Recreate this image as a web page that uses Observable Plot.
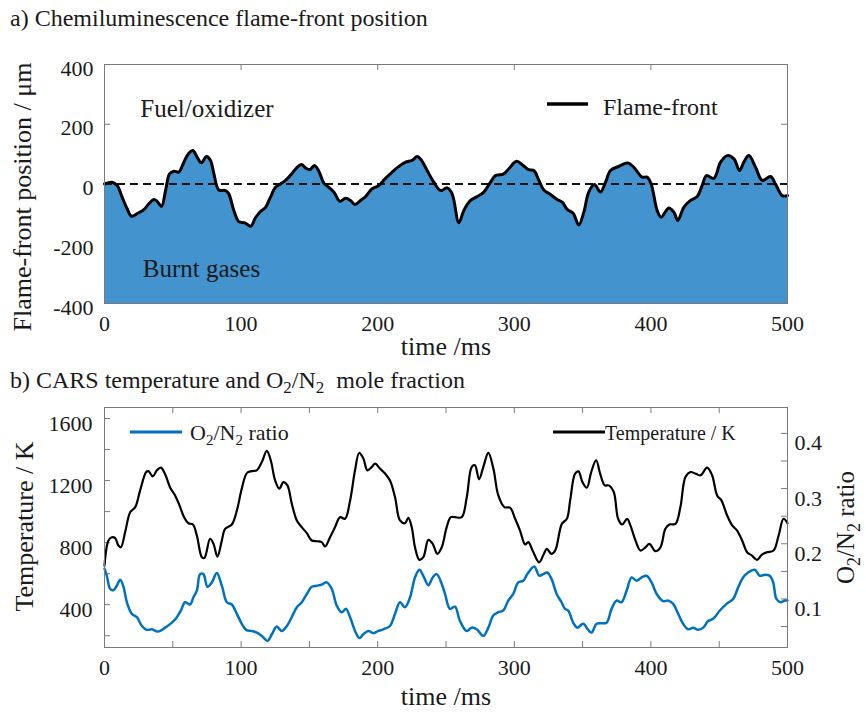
<!DOCTYPE html>
<html><head><meta charset="utf-8">
<script src="https://cdn.jsdelivr.net/npm/d3@7"></script>
<script src="https://cdn.jsdelivr.net/npm/@observablehq/plot@0.6"></script>
<style>
body{margin:0;background:#fff;}
#root{position:relative;width:866px;height:716px;overflow:hidden;}
#root svg{position:absolute;left:0;}
</style></head><body><div id="root"></div>
<script>
// ---------- data ----------
const flameTime = [0,5.6,9.3,12.9,16.6,19.8,24.3,28.8,32.5,36.1,38.5,41.7,44.7,47.6,50.8,54.4,58.1,61.7,64.7,67.8,70.8,74.7,77.6,80.1,83.7,88.6,91,94.7,98.3,102.7,107.1,110.5,114.2,117.9,121.5,125.2,128.8,132.5,137.4,141,144.2,147.1,150.3,153.7,156.9,160.6,164.2,167.9,172.3,176.4,180.1,183.3,187.4,191.1,195.9,200.8,205.7,210.6,215.5,220.4,225.2,228.9,232.1,236.2,241.1,246,250.9,254.5,259.4,263,267.9,272.8,277.7,282.6,286.2,292.3,296,301.6,306.5,310.6,314.3,318,321.6,326.5,331.4,335.1,338.7,343.1,347.2,350.9,354.5,358.7,363.1,366.8,370.4,376.5,383.1,387.5,393.6,397.2,400.2,404.6,407.5,413.1,416.8,419.7,424.1,429,433.9,437.5,440.7,446.1,451,455.9,460.8,464.9,468,471.7,476.6,481.5,487.6,491.2,496.1,500];
const flamePos = [0,6,-5,-44,-83,-108,-98,-86,-66,-52,-58,-75,-22,34,43,40,73,103,112,90,71,92,79,34,-20,-22,-33,-89,-126,-130,-141,-113,-92,-78,-44,-11,0,12,36,56,65,54,48,62,43,3,-11,-27,-58,-48,-55,-69,-55,-42,-16,-5,19,40,59,73,79,92,79,45,6,-22,-13,-33,-130,-89,-55,-42,-27,6,28,34,51,76,62,48,45,12,-20,-35,-52,-61,-85,-98,-137,-94,-27,-2,-27,6,45,59,70,56,23,23,0,-89,-111,-80,-94,-122,-78,-55,-42,-5,28,19,73,95,84,45,73,95,56,12,25,0,-39,-39];

const tempTime = [0,2.9,5.4,7.8,10.2,12,15.1,18.8,22.5,26.1,30.5,32.2,35.4,38.3,41.3,44.4,48.1,51.7,54.9,58.3,61.5,64.7,67.6,71.3,73.2,77.3,79.8,82.7,85.9,88.3,93.2,96.9,100.5,104.2,107.8,111.5,115.2,118.8,121.7,124.9,128,131,133.9,137.1,140.8,144.4,148.1,151.7,155.4,159,161.5,165.1,168.8,172.4,176.1,179.8,183.4,186.4,189.5,192.4,195.6,198.1,201.7,205.4,209,212.7,216.3,220,222.4,224.9,227.3,230.5,233.4,237.1,240.3,243.6,246.9,250.5,253.5,256.6,261.5,265.2,268.8,271.2,274.2,277.3,281,284.7,288.3,292.7,296.9,300.6,304.2,307.9,310.3,313.2,318.2,321.4,323.8,327,329.9,334.8,338.5,340.9,344.5,347,349.9,353.1,356.3,359.9,363,366.2,369.1,372.8,376,379,382.6,385,388.7,392.3,396,398.9,403.3,407,410.6,413.6,418,421.6,425.3,429,432.6,436.3,441.2,444.8,448.5,451.6,455.8,459.5,463.1,466.8,470.4,474,477.7,481.3,485,489.8,493.5,497.1,500];
const tempK = [652,814,835,829,781,770,867,996,1029,1137,1255,1261,1227,1266,1283,1240,1154,1104,1040,964,925,917,846,706,702,825,792,710,814,889,917,1007,1148,1248,1261,1266,1320,1391,1331,1201,1148,1190,1169,1051,943,900,861,814,809,803,775,835,900,964,954,1072,1266,1378,1342,1266,1287,1309,1277,1245,1201,1093,943,925,960,900,770,689,706,818,792,728,770,900,964,964,964,1093,1287,1298,1208,1287,1378,1277,1104,1029,1025,954,878,788,803,753,673,723,760,728,749,921,954,1072,1245,1259,1190,1154,1255,1331,1240,1169,1169,1126,954,917,954,911,814,749,770,792,745,770,889,917,921,1029,1223,1255,1245,1234,1283,1234,1104,1072,975,911,878,814,738,717,689,723,738,749,846,954,925];

const ratioTime = [0,1.7,4.2,6.6,9,11.5,13.9,16.4,20,23.7,27.4,31,34.7,38.3,40.8,44.4,49.3,53,55.9,59,62.7,65.1,67.6,70,72.4,75.4,78.6,82.2,85.9,89.6,93.2,96.9,100.5,103.7,107.8,111.5,115.2,119.3,122.5,126.1,129.8,133.5,137.1,140.8,144.4,148.1,151.7,155.4,159,162.7,166.4,170,173.7,176.8,179.8,183.4,186.6,189.5,193.2,196.8,200.5,204.1,209,212.7,216.3,220,223.7,227.3,230.5,233.4,237.1,240.3,243.2,246.9,249.3,252.9,256.6,260.2,265.1,268.8,272.5,277.3,281,284.6,288.3,291.9,295.6,299.2,302.9,306.6,309.5,314.6,318.3,321.2,324.1,327.3,331,334.6,337.1,339.5,343.1,346.1,350.5,354.1,356.6,360.2,363.9,367.6,371.2,374.9,378.5,382.2,385.9,389.5,393.2,396.8,400.5,404.2,409,412.7,416.3,420,423.6,427.3,430.9,434.6,438.3,441.9,445.6,450.5,455.4,460.2,463.9,467.5,471.2,476.1,479.7,483.4,487,489.5,491.9,494.9,498,500];
const ratioO2N2 = [0.155,0.142,0.118,0.116,0.124,0.135,0.122,0.094,0.073,0.067,0.051,0.044,0.045,0.041,0.042,0.048,0.057,0.067,0.079,0.094,0.090,0.103,0.115,0.145,0.145,0.122,0.130,0.147,0.124,0.094,0.090,0.073,0.055,0.044,0.042,0.039,0.033,0.024,0.036,0.050,0.042,0.051,0.067,0.085,0.094,0.109,0.122,0.124,0.126,0.130,0.118,0.088,0.076,0.082,0.067,0.042,0.029,0.036,0.042,0.038,0.042,0.045,0.051,0.073,0.094,0.085,0.103,0.139,0.153,0.142,0.125,0.139,0.145,0.127,0.109,0.082,0.086,0.060,0.042,0.048,0.045,0.033,0.048,0.070,0.076,0.079,0.097,0.109,0.130,0.133,0.145,0.159,0.142,0.145,0.148,0.136,0.109,0.094,0.082,0.079,0.057,0.048,0.055,0.044,0.039,0.055,0.056,0.057,0.082,0.097,0.094,0.115,0.139,0.133,0.139,0.142,0.130,0.109,0.096,0.097,0.091,0.073,0.055,0.045,0.048,0.044,0.048,0.060,0.064,0.079,0.091,0.100,0.121,0.139,0.148,0.153,0.142,0.144,0.142,0.130,0.100,0.094,0.097,0.097];

// ticks and domains
const xLabelTicks = [0,100,200,300,400,500];
const xMinorTicksB = [0,50,100,150,200,250,300,350,400,450,500];
const flameTicks = [-400,-200,0,200,400];
const tempTicks = [200,400,600,800,1000,1200,1400,1600];
const tempLabels = [400,800,1200,1600];
const ratioTicks = [0.05,0.1,0.15,0.2,0.25,0.3,0.35,0.4];
const ratioLabels = [0.1,0.2,0.3,0.4];
const timeDomain = [0,500];
const flameDomain = [-400,400];
const tempDomain = [124,1671];
const ratioDomain = [0.012,0.447];

// ---------- layout / style ----------
const FONT = '"Liberation Serif", "Times New Roman", serif';
const TXT = "#1a1a1a";
const FRAME = "#7a7a7a";
const W = 866, ML = 104, MR = 79;
const A = {h: 360, mt: 64, mb: 57};
const B = {h: 356, mt: 47, mb: 69};
const TICK = 6;
const pxX = (W - ML - MR) / (timeDomain[1] - timeDomain[0]);
const tx = TICK / pxX;
const tyA = TICK / ((A.h - A.mt - A.mb) / (flameDomain[1] - flameDomain[0]));
const tyB = TICK / ((B.h - B.mt - B.mb) / (tempDomain[1] - tempDomain[0]));
const toLeft = r => tempDomain[0] + (r - ratioDomain[0]) / (ratioDomain[1] - ratioDomain[0]) * (tempDomain[1] - tempDomain[0]);

const flame = flameTime.map((t, i) => ({t, v: flamePos[i]}));
const temp = tempTime.map((t, i) => ({t, T: tempK[i]}));
const ratio = ratioTime.map((t, i) => ({t, r: ratioO2N2[i]}));
const c = v => () => v;
const fmt = d => String(d);

const plotA = Plot.plot({
  width: W, height: A.h, marginLeft: ML, marginRight: MR, marginTop: A.mt, marginBottom: A.mb,
  style: {fontFamily: FONT, fontSize: "22px", color: TXT, background: "white", overflow: "visible"},
  x: {domain: timeDomain, label: null},
  y: {domain: flameDomain, label: null},
  marks: [
    Plot.ruleX(xLabelTicks, {x: d => d, y1: c(flameDomain[1]), y2: c(flameDomain[1] - tyA), stroke: FRAME}),
    Plot.ruleY(flameTicks, {y: d => d, x1: c(timeDomain[0]), x2: c(timeDomain[0] + tx), stroke: FRAME}),
    Plot.ruleY(flameTicks, {y: d => d, x1: c(timeDomain[1]), x2: c(timeDomain[1] - tx), stroke: FRAME}),
    Plot.areaY(flame, {x: "t", y1: c(flameDomain[0]), y2: "v", fill: "#4393CE", curve: "catmull-rom"}),
    Plot.ruleY([0], {stroke: "#111", strokeWidth: 2, strokeDasharray: "8,5"}),
    Plot.lineY(flame, {x: "t", y: "v", stroke: "#000", strokeWidth: 3, curve: "catmull-rom"}),
    Plot.axisX({ticks: xLabelTicks, tickSize: 0, tickPadding: 12, fontSize: 22, tickFormat: fmt, label: null}),
    Plot.axisY({ticks: flameTicks, tickSize: 0, tickPadding: 11, dy: 4, fontSize: 22, tickFormat: fmt, label: null}),
    Plot.frame({stroke: FRAME}),
    Plot.text(["time /ms"], {frameAnchor: "bottom", textAnchor: "middle", lineAnchor: "middle", dy: 43, fontSize: 26, fill: TXT}),
    Plot.text(["Flame-front position / μm"], {frameAnchor: "left", textAnchor: "middle", lineAnchor: "middle", rotate: -90, dx: -82, dy: 13, fontSize: 26, fill: TXT}),
    Plot.text([{t: 75, v: 251, s: "Fuel/oxidizer"}], {x: "t", y: "v", text: "s", fontSize: 25, fill: TXT}),
    Plot.text([{t: 71, v: -285, s: "Burnt gases"}], {x: "t", y: "v", text: "s", fontSize: 25, fill: TXT})
  ]
});

const plotB = Plot.plot({
  width: W, height: B.h, marginLeft: ML, marginRight: MR, marginTop: B.mt, marginBottom: B.mb,
  style: {fontFamily: FONT, fontSize: "22px", color: TXT, background: "white", overflow: "visible"},
  x: {domain: timeDomain, label: null},
  y: {domain: tempDomain, label: null},
  marks: [
    Plot.ruleX(xMinorTicksB, {x: d => d, y1: c(tempDomain[0]), y2: c(tempDomain[0] + tyB), stroke: FRAME}),
    Plot.ruleX(xMinorTicksB, {x: d => d, y1: c(tempDomain[1]), y2: c(tempDomain[1] - tyB), stroke: FRAME}),
    Plot.ruleY(tempTicks, {y: d => d, x1: c(timeDomain[0]), x2: c(timeDomain[0] + tx), stroke: FRAME}),
    Plot.ruleY(ratioTicks, {y: d => toLeft(d), x1: c(timeDomain[1]), x2: c(timeDomain[1] - tx), stroke: FRAME}),
    Plot.lineY(ratio, {x: "t", y: d => toLeft(d.r), stroke: "#0072BD", strokeWidth: 2.5, curve: "catmull-rom"}),
    Plot.lineY(temp, {x: "t", y: "T", stroke: "#000", strokeWidth: 2.2, curve: "catmull-rom"}),
    Plot.axisX({ticks: xLabelTicks, tickSize: 0, tickPadding: 12, fontSize: 22, tickFormat: fmt, label: null}),
    Plot.axisY({ticks: tempLabels, tickSize: 0, tickPadding: 12, dy: 5, fontSize: 22, tickFormat: fmt, label: null}),
    Plot.text(ratioLabels, {y: d => toLeft(d), frameAnchor: "right", textAnchor: "start", lineAnchor: "middle", dx: 7, dy: 10, text: d => d.toFixed(1), fontSize: 22, fill: TXT}),
    Plot.frame({stroke: FRAME}),
    Plot.text(["time /ms"], {frameAnchor: "bottom", textAnchor: "middle", lineAnchor: "middle", dy: 49, fontSize: 26, fill: TXT}),
    Plot.text(["Temperature / K"], {frameAnchor: "left", textAnchor: "middle", lineAnchor: "middle", rotate: -90, dx: -80, dy: -1, fontSize: 26, fill: TXT}),
    Plot.text(["O2/N2 ratio"], {frameAnchor: "right", textAnchor: "middle", lineAnchor: "middle", rotate: -90, dx: 58, fontSize: 25, fill: TXT})
  ]
});

const root = document.getElementById("root");
plotA.style.top = "0px";
plotB.style.top = A.h + "px";
root.appendChild(plotA);
root.appendChild(plotB);

// rich text with subscripts
function fillRich(node, size, parts) {
  const t = d3.select(node);
  t.text(null).style("white-space", "pre");
  let shifted = 0;
  for (const [s, sub] of parts) {
    const sp = t.append("tspan").text(s);
    const target = sub ? Math.round(size * 0.22) : 0;
    if (target !== shifted) { sp.attr("dy", target - shifted); shifted = target; }
    if (sub) sp.attr("font-size", Math.round(size * 0.7));
  }
}
const O2N2 = [["O", false], ["2", true], ["/N", false], ["2", true]];
d3.select(plotB).selectAll("text").each(function () {
  if (this.textContent === "O2/N2 ratio") fillRich(this, 25, [...O2N2, [" ratio", false]]);
});

// overlay: titles and legends
const ov = d3.select(root).append("svg")
  .attr("width", W).attr("height", 716)
  .style("top", "0px").style("pointer-events", "none")
  .style("font-family", FONT).attr("fill", TXT);
function label(x, y, size, parts) {
  const t = ov.append("text").attr("x", x).attr("y", y).attr("font-size", size);
  fillRich(t.node(), size, parts);
}
label(10, 26, 24, [["a) Chemiluminescence flame-front position", false]]);
label(10, 388, 24, [["b) CARS temperature and ", false], ...O2N2, ["  mole fraction", false]]);

ov.append("line").attr("x1", 547).attr("x2", 588).attr("y1", 104).attr("y2", 104).attr("stroke", "#000").attr("stroke-width", 3.5);
label(603, 115, 24, [["Flame-front", false]]);

ov.append("line").attr("x1", 130).attr("x2", 182).attr("y1", 432).attr("y2", 432).attr("stroke", "#0072BD").attr("stroke-width", 3);
label(190, 440, 22, [...O2N2, [" ratio", false]]);

ov.append("line").attr("x1", 553).attr("x2", 605).attr("y1", 432).attr("y2", 432).attr("stroke", "#000").attr("stroke-width", 3);
label(605, 439.5, 20, [["Temperature / K", false]]);
</script>
</body></html>
